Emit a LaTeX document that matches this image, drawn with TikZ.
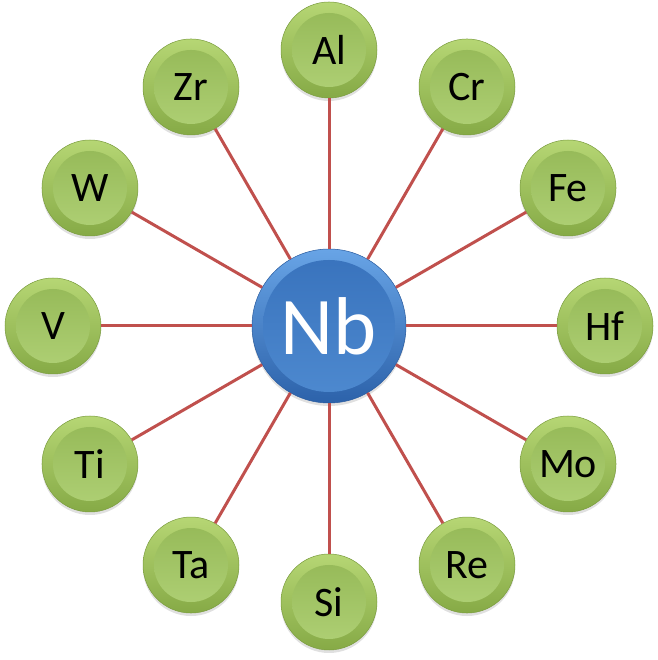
\documentclass[tikz,border=0pt]{standalone}
\usepackage{fontspec}
\setmainfont{Carlito}
\usetikzlibrary{calc}
\definecolor{gA}{RGB}{182,214,116}
\definecolor{gB}{RGB}{134,170,70}
\definecolor{gI1}{RGB}{148,184,86}
\definecolor{gI2}{RGB}{176,209,118}
\definecolor{gD}{RGB}{122,156,62}
\definecolor{bA}{RGB}{104,164,230}
\definecolor{bB}{RGB}{44,98,170}
\definecolor{bI1}{RGB}{56,114,188}
\definecolor{bI2}{RGB}{78,138,208}
\definecolor{bD}{RGB}{40,90,158}
\definecolor{linkred}{RGB}{192,80,77}
\tikzset{
  elem/.style={circle, minimum size=96pt, inner sep=0pt,
    font=\fontsize{42}{42}\selectfont, text=black,
    preaction={fill=black, opacity=0.12, transform canvas={yshift=-3pt}},
    top color=gA, bottom color=gB, draw=gD, line width=0.5pt,
    path picture={\shade[top color=gI1, bottom color=gI2]
      (path picture bounding box.center) circle (37pt);}},
  center/.style={circle, minimum size=154pt, inner sep=0pt,
    font=\fontsize{82}{82}\selectfont, text=white,
    preaction={fill=black, opacity=0.12, transform canvas={yshift=-3pt}},
    top color=bA, bottom color=bB, draw=bD, line width=0.5pt,
    path picture={\shade[top color=bI1, bottom color=bI2]
      (path picture bounding box.center) circle (66pt);}},
  conn/.style={draw=linkred, line width=3pt}
}
\begin{document}
\begin{tikzpicture}[x=1pt,y=1pt]
\useasboundingbox (0,0) rectangle (657,660);
\coordinate (c) at (329,334);
\node[center] (nb) at (c) {Nb};
\node[elem] (al) at ($(c)+(90:276)$) {Al};
\node[elem] (cr) at ($(c)+(60:276)$) {Cr};
\node[elem] (fe) at ($(c)+(30:276)$) {Fe};
\node[elem] (hf) at ($(c)+(0:276)$) {Hf};
\node[elem] (mo) at ($(c)+(-30:276)$) {Mo};
\node[elem] (re) at ($(c)+(-60:276)$) {Re};
\node[elem] (si) at ($(c)+(-90:276)$) {Si};
\node[elem] (ta) at ($(c)+(-120:276)$) {Ta};
\node[elem] (ti) at ($(c)+(-150:276)$) {Ti};
\node[elem] (v) at ($(c)+(180:276)$) {V};
\node[elem] (w) at ($(c)+(150:276)$) {W};
\node[elem] (zr) at ($(c)+(120:276)$) {Zr};
\foreach \n in {al,cr,fe,hf,mo,re,si,ta,ti,v,w,zr}
  \draw[conn] (nb) -- (\n);
\end{tikzpicture}
\end{document}
